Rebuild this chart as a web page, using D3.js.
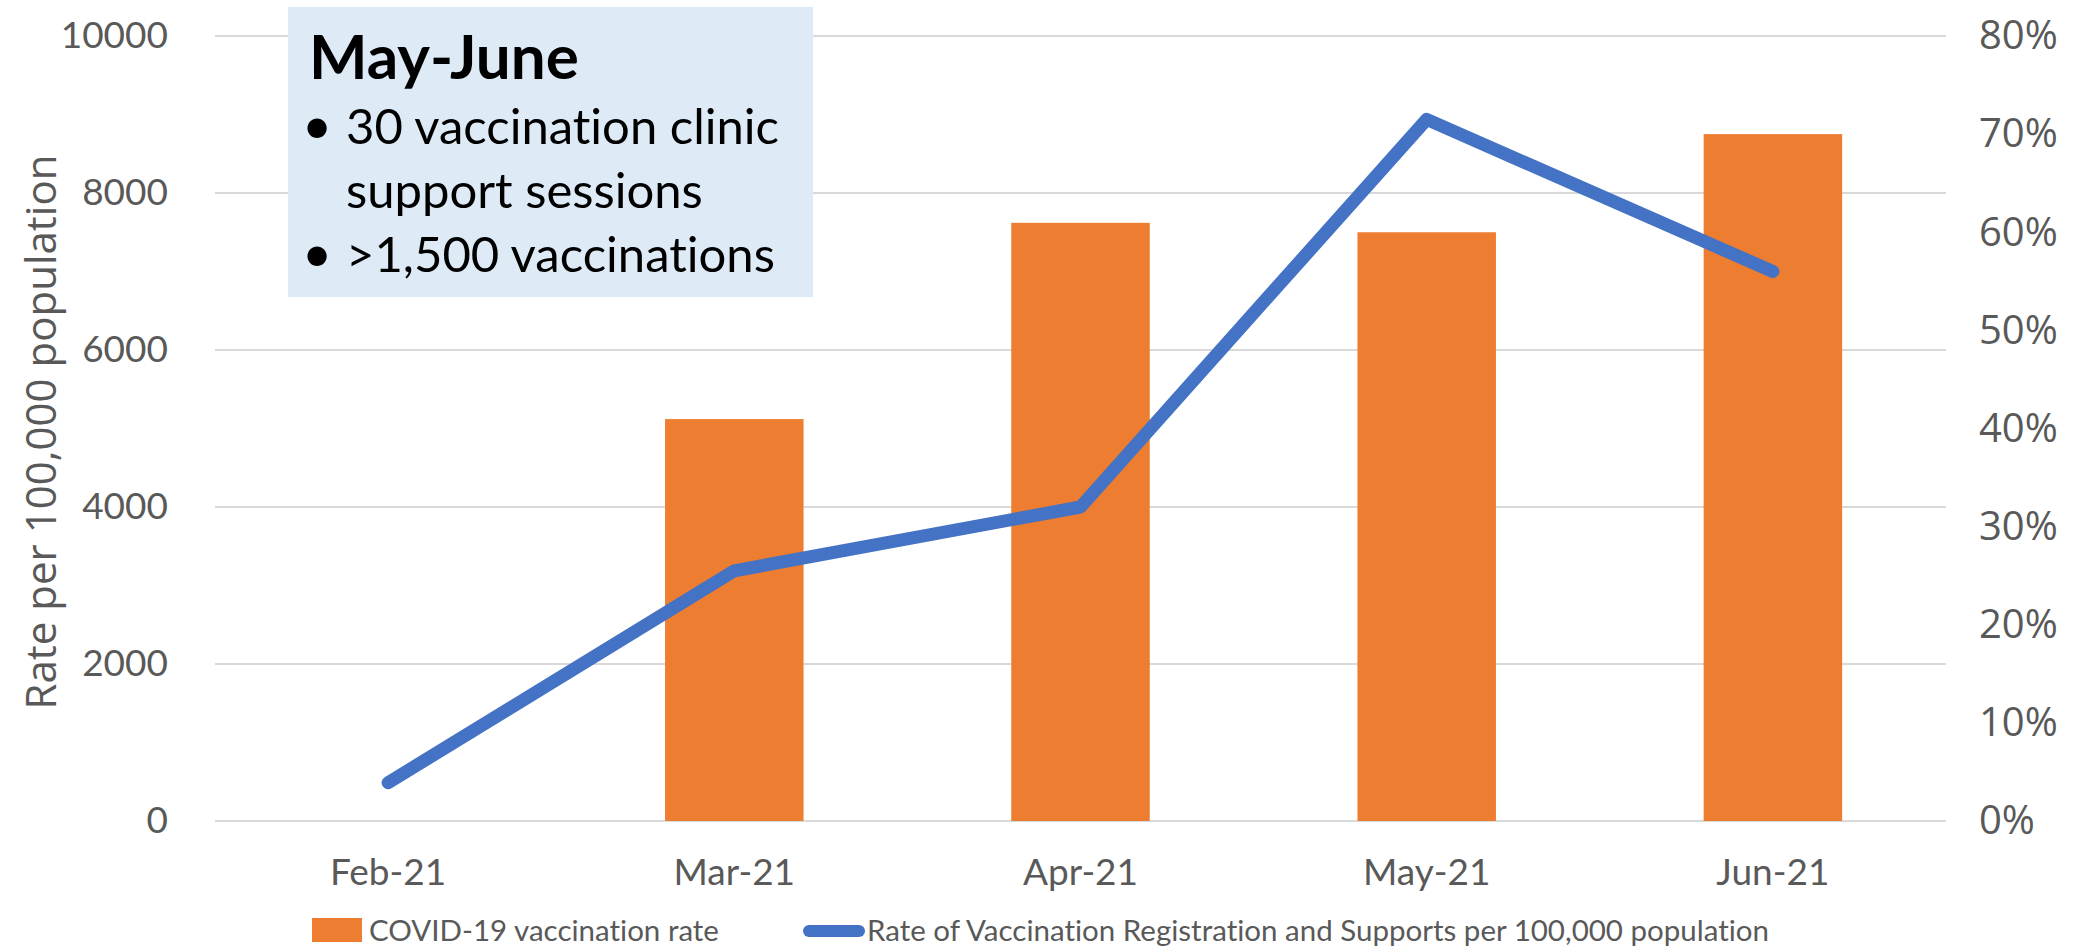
<!DOCTYPE html>
<html lang="en">
<head>
    <meta charset="UTF-8">
    <title>Vaccination rate</title>
    <style>
        body{
            margin: 0;
            background: #fff;
        }
        svg{
            display: block;
        }
        text{
            font-variant-ligatures: none;
        }
        .grid line{
            stroke: #d9d9d9;
            stroke-width: 2;
        }
        .tick-label{
            fill: #595959;
        }
        .cat{
            font-family: Lato, "Open Sans", sans-serif;
            font-size: 37px;
        }
        .pct{
            font-family: "Open Sans", sans-serif;
            font-size: 40px;
        }
        .legend-text{
            font-family: Lato, "Open Sans", sans-serif;
            font-size: 29.5px;
            fill: #595959;
        }
        .note{
            font-family: Lato, "Open Sans", sans-serif;
            font-size: 49px;
            fill: #000;
        }
    </style>
    <script src="https://d3js.org/d3.v7.min.js"></script>
</head>
<body>
    <script>
        var months = ["Feb-21", "Mar-21", "Apr-21", "May-21", "Jun-21"];
        var vaccRate = [0, 5120, 7620, 7500, 8750];
        var regRate = [0.039, 0.255, 0.32, 0.715, 0.56];
        var leftTicks = [0, 2000, 4000, 6000, 8000, 10000];
        var rightTicks = [0, 0.1, 0.2, 0.3, 0.4, 0.5, 0.6, 0.7, 0.8];
        var seriesNames = ["COVID-19 vaccination rate",
                           "Rate of Vaccination Registration and Supports per 100,000 population"];
        var noteTitle = "May-June";
        var noteLines = [["\u2022", "30 vaccination clinic"], ["", "support sessions"], ["\u2022", ">1,500 vaccinations"]];

        var width = 2079, height = 947;
        var plot = {left: 215, right: 1946, top: 36, bottom: 821};

        var svg = d3.select("body").append("svg")
                    .attr("width", width)
                    .attr("height", height);

        var x = d3.scaleBand()
                  .domain(months)
                  .range([plot.left, plot.right])
                  .paddingInner(0.6)
                  .paddingOuter(0.3);
        var yLeft = d3.scaleLinear().domain([0, 10000]).range([plot.bottom, plot.top]);
        var yRight = d3.scaleLinear().domain([0, 0.8]).range([plot.bottom, plot.top]);

        // gridlines
        svg.append("g")
           .attr("class", "grid")
           .selectAll("line")
           .data(leftTicks)
           .join("line")
           .attr("x1", plot.left)
           .attr("x2", plot.right)
           .attr("y1", function(d){ return yLeft(d); })
           .attr("y2", function(d){ return yLeft(d); });

        // left axis
        var leftAxis = d3.axisLeft(yLeft).tickValues(leftTicks).tickSize(0).tickPadding(47)
                         .tickFormat(d3.format("d"));
        var gl = svg.append("g").attr("transform", "translate(" + plot.left + ",0)").call(leftAxis);
        gl.select(".domain").remove();
        gl.selectAll("text").attr("class", "tick-label cat");

        // right axis
        var rightAxis = d3.axisRight(yRight).tickValues(rightTicks).tickSize(0).tickPadding(33)
                          .tickFormat(d3.format(".0%"));
        var gr = svg.append("g").attr("transform", "translate(" + plot.right + ",0)").call(rightAxis);
        gr.select(".domain").remove();
        gr.selectAll("text").attr("class", "tick-label pct");

        // bottom axis
        var bottomAxis = d3.axisBottom(x).tickSize(0).tickPadding(38);
        var gb = svg.append("g").attr("transform", "translate(0," + plot.bottom + ")").call(bottomAxis);
        gb.select(".domain").remove();
        gb.selectAll("text").attr("class", "tick-label cat");

        // bars
        svg.append("g")
           .selectAll("rect")
           .data(vaccRate)
           .join("rect")
           .attr("x", function(d, i){ return x(months[i]); })
           .attr("y", function(d){ return yLeft(d); })
           .attr("width", x.bandwidth())
           .attr("height", function(d){ return plot.bottom - yLeft(d); })
           .attr("fill", "#ed7d31");

        // line
        var line = d3.line()
                     .x(function(d, i){ return x(months[i]) + x.bandwidth() / 2; })
                     .y(function(d){ return yRight(d); });
        svg.append("path")
           .datum(regRate)
           .attr("d", line)
           .attr("fill", "none")
           .attr("stroke", "#4472c4")
           .attr("stroke-width", 13)
           .attr("stroke-linecap", "round")
           .attr("stroke-linejoin", "round");

        // y title
        svg.append("text")
           .attr("class", "tick-label pct")
           .style("font-size", "42px")
           .attr("transform", "translate(56,432) rotate(-90)")
           .attr("text-anchor", "middle")
           .text("Rate per 100,000 population");

        // annotation box
        var note = svg.append("g").attr("transform", "translate(288,7)");
        note.append("rect")
            .attr("width", 525)
            .attr("height", 290)
            .attr("fill", "#deebf7");
        note.append("text")
            .attr("class", "note")
            .attr("x", 21)
            .attr("y", 72)
            .style("font-weight", "bold")
            .style("font-size", "62px")
            .text(noteTitle);
        noteLines.forEach(function(l, i){
            var ty = 137 + i * 64;
            note.append("text").attr("class", "note")
                .attr("x", 29).attr("y", ty - 20)
                .style("font-size", "52px")
                .attr("text-anchor", "middle")
                .attr("dominant-baseline", "central")
                .text(l[0]);
            note.append("text").attr("class", "note").attr("x", 58).attr("y", ty).text(l[1]);
        });

        // legend
        var lg = svg.append("g");
        lg.append("rect")
          .attr("x", 312).attr("y", 918)
          .attr("width", 50).attr("height", 24)
          .attr("fill", "#ed7d31");
        lg.append("text")
          .attr("class", "legend-text")
          .attr("x", 369).attr("y", 941)
          .text(seriesNames[0]);
        lg.append("line")
          .attr("x1", 809).attr("x2", 859)
          .attr("y1", 931).attr("y2", 931)
          .attr("stroke", "#4472c4")
          .attr("stroke-width", 12)
          .attr("stroke-linecap", "round");
        lg.append("text")
          .attr("class", "legend-text")
          .attr("x", 867).attr("y", 941)
          .text(seriesNames[1]);
    </script>
</body>
</html>
